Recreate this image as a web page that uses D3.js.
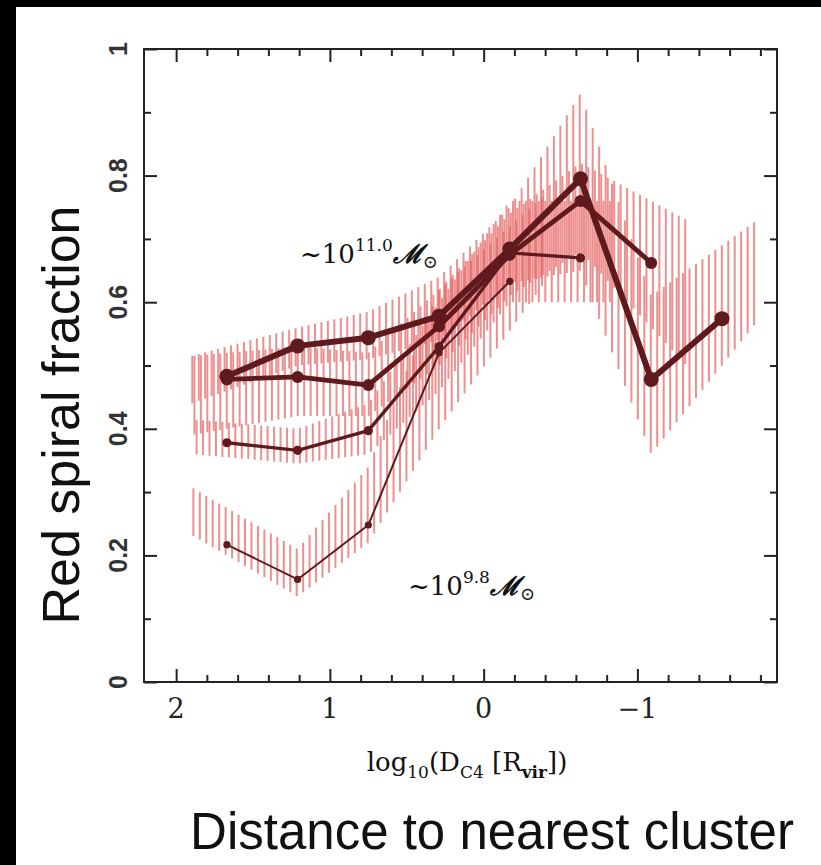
<!DOCTYPE html>
<html><head><meta charset="utf-8">
<script src="https://cdn.jsdelivr.net/npm/d3@7"></script>
<style>body{margin:0;background:#fff} svg{display:block}</style>
</head><body>
<script>
// ---- data ----
const distBins = [1.67, 1.21, 0.75, 0.29, -0.17, -0.63, -1.09, -1.55];
// highest mass (~10^11.0) to lowest mass (~10^9.8)
const fracM1 = [0.483, 0.531, 0.544, 0.578, 0.684, 0.795, 0.478, 0.574];
const loM1   = [0.46, 0.50, 0.51, 0.54, 0.63, 0.65, 0.36, 0.50];
const hiM1   = [0.53, 0.56, 0.585, 0.64, 0.75, 0.93, 0.61, 0.69];
const fracM2 = [0.478, 0.482, 0.469, 0.562, 0.675, 0.760, 0.662];
const loM2   = [0.40, 0.42, 0.42, 0.50, 0.61, 0.68, 0.56];
const hiM2   = [0.52, 0.53, 0.52, 0.62, 0.74, 0.82, 0.76];
const fracM3 = [0.378, 0.366, 0.397, 0.530, 0.678, 0.670];
const loM3   = [0.355, 0.345, 0.36, 0.46, 0.60, 0.60];
const hiM3   = [0.41, 0.40, 0.44, 0.60, 0.76, 0.76];
const fracM4 = [0.217, 0.162, 0.248, 0.520, 0.633];
const loM4   = [0.20, 0.135, 0.22, 0.40, 0.555];
const hiM4   = [0.275, 0.21, 0.34, 0.62, 0.72];
const xMajorTicks = [2, 1, 0, -1];
const yMajorTicks = [0, 0.2, 0.4, 0.6, 0.8, 1];
const labelHigh = {base: "~10", sup: "11.0"};
const labelLow  = {base: "~10", sup: "9.8"};

const series = [
  {y: fracM4, lo: loM4, hi: hiM4, w: 2,   r: 3.6, off: 0.007},
  {y: fracM3, lo: loM3, hi: hiM3, w: 3.4, r: 4.6, off: 0.028},
  {y: fracM2, lo: loM2, hi: hiM2, w: 4.8, r: 6,   off: 0.014},
  {y: fracM1, lo: loM1, hi: hiM1, w: 6,   r: 7.5, off: 0.0}
];

const W = 821, H = 865;
const svg = d3.select("body").append("svg").attr("width", W).attr("height", H);
svg.append("rect").attr("width", W).attr("height", H).attr("fill", "#fff");
// black border bands
svg.append("rect").attr("x",0).attr("y",0).attr("width",W).attr("height",7).attr("fill","#000");
svg.append("rect").attr("x",0).attr("y",0).attr("width",16).attr("height",H).attr("fill","#000");

const L = 144, R = 777, T = 49, B = 682;
const x = d3.scaleLinear().domain([2.209, -1.908]).range([L, R]);
const y = d3.scaleLinear().domain([0, 1]).range([B, T]);

// ---- hatched bands ----
const bandG = svg.append("g");
const step = 0.042;
series.forEach(s => {
  const xs = distBins.slice(0, s.y.length);
  const loF = d3.scaleLinear().domain(xs).range(s.lo);
  const hiF = d3.scaleLinear().domain(xs).range(s.hi);
  const x0 = xs[0] + 0.225, x1 = xs[xs.length - 1] - 0.225;
  const hx = d3.range(x0 - s.off, x1, -step);
  bandG.selectAll(null).data(hx).join("line")
    .attr("x1", d => x(d)).attr("x2", d => x(d))
    .attr("y1", d => y(loF(d))).attr("y2", d => y(hiF(d)))
    .attr("stroke", "rgba(228,100,100,0.72)").attr("stroke-width", 2);
});

// ---- lines + points ----
const lineCol = "#5e1a1d";
series.forEach(s => {
  const pts = s.y.map((v, i) => [distBins[i], v]);
  svg.append("path").datum(pts)
    .attr("d", d3.line().x(d => x(d[0])).y(d => y(d[1])))
    .attr("fill", "none").attr("stroke", lineCol).attr("stroke-width", s.w)
    .attr("stroke-linejoin", "round");
  svg.selectAll(null).data(pts).join("circle")
    .attr("cx", d => x(d[0])).attr("cy", d => y(d[1])).attr("r", s.r)
    .attr("fill", lineCol);
});

// ---- frame and ticks ----
const axCol = "#222";
const xMinor = d3.range(-9, 11).map(k => k * 0.2).filter(v => Math.abs(v - Math.round(v)) > 1e-6);
const yMinor = d3.range(1, 10, 2).map(k => k / 10);
function styleAx(g){ g.select(".domain").remove(); g.selectAll("line").attr("stroke", axCol).attr("stroke-width", 2); g.selectAll("text").remove(); }
svg.append("g").attr("transform", `translate(0,${B})`).call(d3.axisBottom(x).tickValues(xMajorTicks).tickSize(-13)).call(styleAx);
svg.append("g").attr("transform", `translate(0,${B})`).call(d3.axisBottom(x).tickValues(xMinor).tickSize(-7)).call(styleAx);
svg.append("g").attr("transform", `translate(0,${T})`).call(d3.axisTop(x).tickValues(xMajorTicks).tickSize(-13)).call(styleAx);
svg.append("g").attr("transform", `translate(0,${T})`).call(d3.axisTop(x).tickValues(xMinor).tickSize(-7)).call(styleAx);
svg.append("g").attr("transform", `translate(${L},0)`).call(d3.axisLeft(y).tickValues(yMajorTicks).tickSize(-13)).call(styleAx);
svg.append("g").attr("transform", `translate(${L},0)`).call(d3.axisLeft(y).tickValues(yMinor).tickSize(-7)).call(styleAx);
svg.append("g").attr("transform", `translate(${R},0)`).call(d3.axisRight(y).tickValues(yMajorTicks).tickSize(-13)).call(styleAx);
svg.append("g").attr("transform", `translate(${R},0)`).call(d3.axisRight(y).tickValues(yMinor).tickSize(-7)).call(styleAx);
svg.append("rect").attr("x", L).attr("y", T).attr("width", R - L).attr("height", B - T)
  .attr("fill", "none").attr("stroke", axCol).attr("stroke-width", 2);

// tick labels
const serif = "'DejaVu Serif', 'Liberation Serif', serif";
svg.selectAll(null).data(xMajorTicks).join("text")
  .attr("x", d => x(d)).attr("y", 718).attr("text-anchor", "middle")
  .attr("font-family", serif).attr("font-size", 27).attr("fill", "#222")
  .text(d => d3.format("")(d).replace("-", "\u2212"));
svg.selectAll(null).data(yMajorTicks).join("text")
  .attr("transform", d => `translate(127,${y(d)}) rotate(-90)`).attr("text-anchor", "middle")
  .attr("font-family", "'Liberation Sans', Arial, sans-serif").attr("font-size", 25)
  .attr("font-weight", "bold").attr("fill", "#333")
  .text(d => d3.format("")(d));

// axis title (x)
const xt = svg.append("text").attr("x", 467).attr("y", 771).attr("text-anchor", "middle")
  .attr("font-family", serif).attr("font-size", 26).attr("fill", "#111");
xt.append("tspan").text("log");
xt.append("tspan").attr("font-size", 17).attr("dy", 7).text("10");
xt.append("tspan").attr("dy", -7).text("(D");
xt.append("tspan").attr("font-size", 17).attr("dy", 7).text("C4");
xt.append("tspan").attr("dy", -7).text(" [R");
xt.append("tspan").attr("font-size", 17).attr("dy", 7).attr("font-weight", "bold").text("vir");
xt.append("tspan").attr("dy", -7).text("])");

// mass labels
function massLabel(lbl, x0, y0) {
  const t = svg.append("text").attr("x", x0).attr("y", y0)
    .attr("font-family", serif).attr("font-size", 26).attr("fill", "#111");
  t.append("tspan").text(lbl.base);
  t.append("tspan").attr("font-size", 17).attr("dy", -12).text(lbl.sup);
  t.append("tspan").attr("dy", 12).attr("font-style", "italic").attr("font-weight", "bold").text("\u2133");
  t.append("tspan").attr("font-size", 18).attr("dy", 5).text("\u2299");
}
massLabel(labelHigh, 300, 263);
massLabel(labelLow, 408, 595);

// big titles
const bigFont = "'Liberation Sans', Arial, sans-serif";
svg.append("text").attr("transform", "translate(79,415) rotate(-90)").attr("text-anchor", "middle")
  .attr("font-family", bigFont).attr("font-size", 52).attr("fill", "#111").text("Red spiral fraction");
svg.append("text").attr("x", 492).attr("y", 849).attr("text-anchor", "middle")
  .attr("font-family", bigFont).attr("font-size", 51).attr("fill", "#111").text("Distance to nearest cluster");
</script>
</body></html>
